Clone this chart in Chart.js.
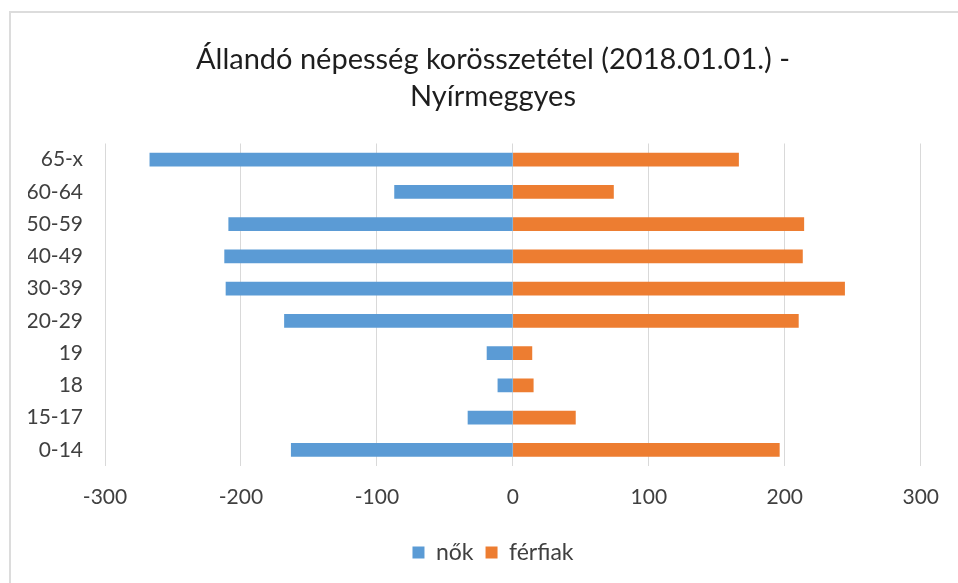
<!DOCTYPE html>
<html>
<head>
<meta charset="utf-8">
<script src="https://cdn.jsdelivr.net/npm/chart.js@4/dist/chart.umd.min.js"></script>
<style>
  html, body { margin: 0; padding: 0; background: #fff; overflow: hidden; }
  #wrap { position: relative; width: 958px; height: 583px; overflow: hidden; }
  #frame { position: absolute; left: 9px; top: 11px; width: 1200px; height: 800px;
           border: 2px solid #dcdcdc; box-sizing: border-box; pointer-events: none; }
  canvas { position: absolute; left: 0; top: 0; }
</style>
</head>
<body>
<div id="wrap">
  <canvas id="c" width="958" height="583"></canvas>
  <div id="frame"></div>
</div>
<script>
const categories = ['65-x', '60-64', '50-59', '40-49', '30-39', '20-29', '19', '18', '15-17', '0-14'];
const nok = [-267, -87, -209, -212, -211, -168, -19, -11, -33, -163];
const ferfiak = [166, 74, 214, 213, 244, 210, 14, 15, 46, 196];
const xTicks = [-300, -200, -100, 0, 100, 200, 300];
const titleLines = ['Állandó népesség korösszetétel (2018.01.01.) -', 'Nyírmeggyes'];

const FONT = 'Lato';
const TXT = '#404040';

new Chart(document.getElementById('c'), {
  type: 'bar',
  data: {
    labels: categories,
    datasets: [
      { label: 'nők', data: nok, backgroundColor: '#5B9BD5', barThickness: 13 },
      { label: 'férfiak', data: ferfiak, backgroundColor: '#ED7D31', barThickness: 13 }
    ]
  },
  options: {
    indexAxis: 'y',
    responsive: false,
    animation: false,
    layout: { padding: { top: 0, right: 0, bottom: 9, left: 28 } },
    plugins: {
      tooltip: { enabled: false },
      title: {
        display: true,
        text: titleLines,
        color: '#1e1e1e',
        font: { family: FONT, size: 29, weight: 'normal', lineHeight: 1.25 },
        padding: { top: 42, bottom: 29 }
      },
      legend: {
        position: 'bottom',
        labels: {
          color: TXT,
          font: { family: FONT, size: 23 },
          boxWidth: 12,
          boxHeight: 12,
          padding: 12
        }
      }
    },
    scales: {
      x: {
        stacked: true,
        min: -300,
        max: 300,
        afterBuildTicks: (s) => { s.ticks = xTicks.map(v => ({ value: v })); },
        afterFit: (s) => { s.height = 63; },
        grid: { color: '#d9d9d9', drawTicks: false },
        border: { display: false },
        ticks: { color: TXT, font: { family: FONT, size: 21 }, padding: 19, maxRotation: 0 }
      },
      y: {
        stacked: true,
        afterFit: (s) => { s.width = 77; },
        grid: { display: false, drawTicks: false },
        border: { display: false },
        ticks: { color: TXT, font: { family: FONT, size: 21 }, padding: 22 }
      },
      yRight: {
        type: 'category',
        position: 'right',
        axis: 'y',
        afterFit: (s) => { s.width = 31; },
        grid: { display: false, drawTicks: false },
        border: { display: false },
        ticks: { display: false }
      }
    }
  }
});
</script>
</body>
</html>
